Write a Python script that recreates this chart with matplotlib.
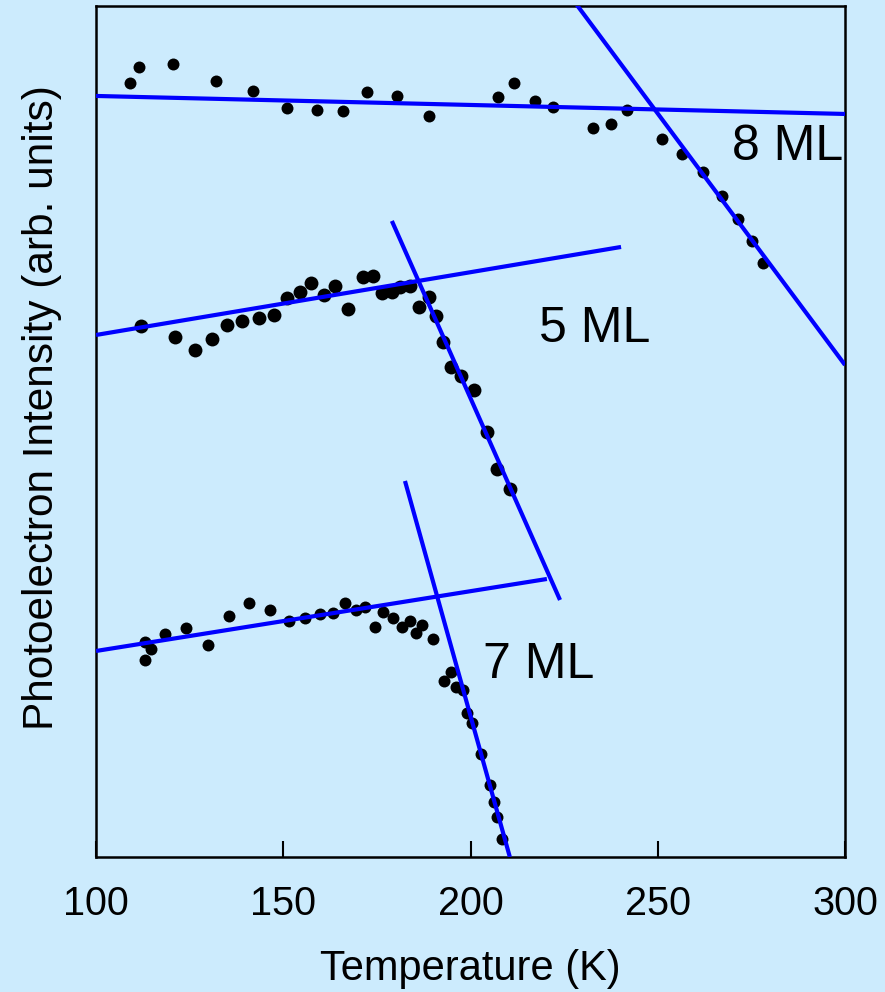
import matplotlib
matplotlib.use("Agg")
import matplotlib.pyplot as plt

BG = "#CCEBFD"
BLUE = "#0000FF"

# 8 ML
t8 = [109.1, 111.6, 120.6, 132.0, 142.0, 150.9, 158.9, 165.9, 172.4, 180.3,
      188.8, 207.3, 211.7, 217.2, 222.1, 232.6, 237.6, 241.7, 251.1, 256.6,
      262.2, 267.2, 271.5, 275.2, 278.0]
i8 = [7.74, 7.90, 7.93, 7.76, 7.66, 7.49, 7.47, 7.46, 7.65, 7.61,
      7.41, 7.60, 7.74, 7.56, 7.50, 7.29, 7.33, 7.47, 7.18, 7.03,
      6.85, 6.61, 6.38, 6.16, 5.94]

# 5 ML
t5 = [112.0, 121.0, 126.5, 131.0, 135.0, 139.0, 143.4, 147.5, 151.0, 154.4,
      157.4, 160.9, 163.9, 167.4, 171.4, 173.9, 176.3, 179.0, 181.2, 183.8,
      186.3, 188.8, 190.8, 192.7, 194.7, 197.4, 200.9, 204.3, 207.2, 210.6]
i5 = [5.31, 5.20, 5.07, 5.18, 5.32, 5.36, 5.39, 5.42, 5.59, 5.65,
      5.74, 5.62, 5.71, 5.48, 5.80, 5.81, 5.64, 5.65, 5.70, 5.71,
      5.50, 5.60, 5.41, 5.15, 4.90, 4.81, 4.67, 4.25, 3.88, 3.68]

# 7 ML
t7 = [113.1, 114.7, 113.1, 118.5, 124.0, 130.0, 135.4, 140.9, 146.5, 151.5,
      155.9, 159.9, 163.4, 166.5, 169.4, 171.8, 174.5, 176.7, 179.4, 181.8,
      183.8, 185.4, 187.0, 189.9, 192.9, 194.7, 196.1, 198.1, 199.1, 200.3,
      202.8, 205.2, 206.3, 207.2, 208.3]
i7 = [2.15, 2.08, 1.97, 2.23, 2.29, 2.12, 2.41, 2.54, 2.47, 2.36,
      2.39, 2.43, 2.44, 2.54, 2.47, 2.50, 2.30, 2.45, 2.39, 2.30,
      2.36, 2.24, 2.32, 2.18, 1.76, 1.85, 1.70, 1.67, 1.44, 1.34,
      1.03, 0.72, 0.55, 0.40, 0.18]

# fit lines: (T_start, T_end), (I_start, I_end)
fits = [
    ((100.0, 300.0), (7.61, 7.43)),   # 8 ML low T
    ((228.4, 300.0), (8.52, 4.92)),   # 8 ML high T
    ((100.0, 240.2), (5.22, 6.10)),   # 5 ML low T
    ((179.0, 223.9), (6.36, 2.57)),   # 5 ML high T
    ((100.0, 220.4), (2.06, 2.78)),   # 7 ML low T
    ((182.5, 210.5), (3.76, 0.00)),   # 7 ML high T
]

labels = [("8 ML", 269.8, 6.97), ("5 ML", 218.3, 5.15), ("7 ML", 203.3, 1.79)]
xticks = [100, 150, 200, 250, 300]

plt.rcParams["font.family"] = ["Liberation Sans", "DejaVu Sans"]

fig = plt.figure(figsize=(8.85, 9.92), dpi=100)
fig.patch.set_facecolor(BG)
ax = fig.add_axes([0.1085, 0.1361, 0.8463, 0.8579])
ax.set_facecolor(BG)

ax.plot(t8, i8, "o", color="k", ms=8.6, mew=0, zorder=2)
ax.plot(t5, i5, "o", color="k", ms=10, mew=0, zorder=2)
ax.plot(t7, i7, "o", color="k", ms=8.6, mew=0, zorder=2)
for xs, ys in fits:
    ax.plot(xs, ys, color=BLUE, lw=3, solid_capstyle="butt", zorder=3)

for txt, x, y in labels:
    ax.text(x, y, txt, fontsize=36, ha="left", va="baseline", color="k")

ax.set_xlim(100, 300)
ax.set_ylim(0, 8.51)
ax.set_xticks(xticks)
ax.set_yticks([])
ax.tick_params(axis="x", direction="in", length=11.5, width=1.5,
               labelsize=28.5, pad=20)
for s in ax.spines.values():
    s.set_linewidth(1.8)

ax.set_xlabel("Temperature (K)", fontsize=30, labelpad=19)
ax.set_ylabel("Photoelectron Intensity (arb. units)", fontsize=30.5)
ax.yaxis.set_label_coords(-0.046, 0.5276)

fig.savefig("out.png", dpi=100, facecolor=BG)
